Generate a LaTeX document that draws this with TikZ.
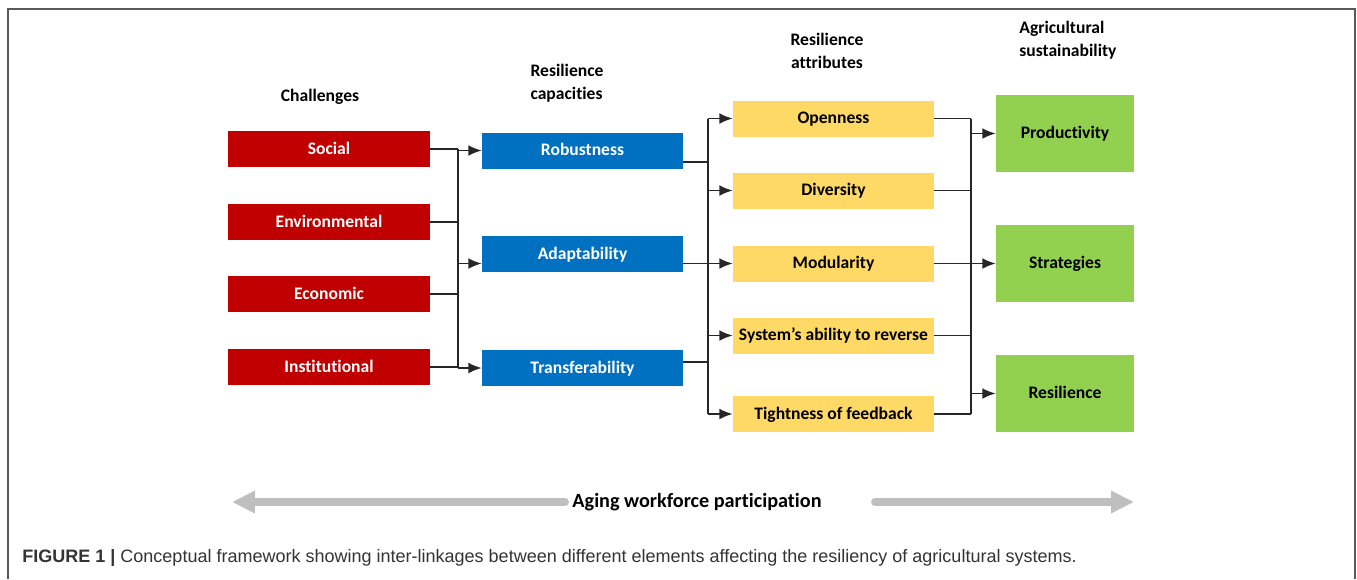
\documentclass[tikz,border=0pt]{standalone}
\usepackage{fontspec}
\setmainfont{Carlito}[Ligatures=NoCommon]
\newfontfamily\capfont{Liberation Sans}
\usetikzlibrary{arrows.meta,positioning}
\definecolor{challred}{HTML}{C00000}
\definecolor{capblue}{HTML}{0070C0}
\definecolor{attryellow}{HTML}{FFD966}
\definecolor{goalgreen}{HTML}{92D050}
\definecolor{agegray}{HTML}{BFBFBF}
\tikzset{
  boxfont/.style={font=\fontsize{10}{13}\selectfont\bfseries},
  box/.style={boxfont,minimum height=0.72cm,inner sep=0pt,text height=1.5ex,text depth=0.3ex},
  challenge/.style={box,fill=challred,text=white,minimum width=4.04cm},
  capacity/.style={box,fill=capblue,text=white,minimum width=4.02cm},
  attribute/.style={box,fill=attryellow,text=black,minimum width=4.02cm},
  goal/.style={box,fill=goalgreen,text=black,minimum width=2.76cm,minimum height=1.54cm},
  heading/.style={boxfont,inner sep=0pt},
  link/.style={line width=0.8pt,black!85},
  wide/.style={line width=4.5pt,agegray,line cap=round},
}

\begin{document}
\begin{tikzpicture}[x=0.02cm,y=-0.02cm,>={Latex[length=7.5pt,width=6pt]}]
\useasboundingbox (0,0) rectangle (1357,579);
\draw[black!65,line width=1.2pt] (8,579) -- (8,9) -- (1355,9) -- (1355,579);
% headings
\node[heading] (hchall) at (320,97) {Challenges};
\node[heading,align=left] (hcap) at (567,83) {Resilience\\capacities};
\node[heading,align=center] (hattr) at (827,51) {Resilience\\attributes};
\node[heading,align=left,anchor=west] (hsust) at (1019,40) {Agricultural\\sustainability};
% boxes
\node[challenge] (social) at (329,149) {Social};
\node[challenge] (environ) at (329,222) {Environmental};
\node[challenge] (econ) at (329,294) {Economic};
\node[challenge] (instit) at (329,367) {Institutional};
\node[capacity] (robust) at (582.5,150.5) {Robustness};
\node[capacity] (adapt) at (582.5,254) {Adaptability};
\node[capacity] (transf) at (582.5,368) {Transferability};
\node[attribute] (open) at (833.5,118.5) {Openness};
\node[attribute] (divers) at (833.5,190.5) {Diversity};
\node[attribute] (modul) at (833.5,263.5) {Modularity};
\node[attribute] (revers) at (833.5,335.5) {System’s ability to reverse};
\node[attribute] (tight) at (833.5,414) {Tightness of feedback};
\node[goal] (product) at (1065,133.5) {Productivity};
\node[goal] (strat) at (1065,263.5) {Strategies};
\node[goal] (resil) at (1065,393.5) {Resilience};
% junctions
\coordinate (ja) at (458,0);
\coordinate (jb) at (708,0);
\coordinate (jc) at (971,0);
\coordinate (robout) at ([yshift=-6.5pt]robust.east);
\coordinate (trout) at ([yshift=3.4pt]transf.east);
% challenges -> capacities
\draw[link] (social.east) -- (social.east -| ja);
\draw[link] (environ.east) -- (environ.east -| ja);
\draw[link] (econ.east) -- (econ.east -| ja);
\draw[link] (instit.east) -- (instit.east -| ja);
\draw[link] (social.east -| ja) -- (instit.east -| ja);
\draw[link,->] (robust.west -| ja) -- (robust.west);
\draw[link,->] (modul -| ja) -- (modul -| adapt.west);
\draw[link,->] (transf.west -| ja) -- (transf.west);
% capacities -> attributes
\draw[link] (robout) -- (robout -| jb);
\draw[link] (trout) -- (trout -| jb);
\draw[link,->] (adapt.east |- modul) -- (modul.west);
\draw[link] (open.west -| jb) -- (tight.west -| jb);
\draw[link,->] (open.west -| jb) -- (open.west);
\draw[link,->] (divers.west -| jb) -- (divers.west);
\draw[link,->] (revers.west -| jb) -- (revers.west);
\draw[link,->] (tight.west -| jb) -- (tight.west);
% attributes -> sustainability
\draw[link] (open.east) -- (open.east -| jc);
\draw[link] (divers.east) -- (divers.east -| jc);
\draw[link] (modul.east) -- (modul.east -| jc);
\draw[link] (revers.east) -- (revers.east -| jc);
\draw[link] (tight.east) -- (tight.east -| jc);
\draw[link] (open.east -| jc) -- (tight.east -| jc);
\draw[link,->] (product.west -| jc) -- (product.west);
\draw[link,->] (strat.west -| jc) -- (strat.west);
\draw[link,->] (resil.west -| jc) -- (resil.west);
% aging workforce
\node[font=\fontsize{11.5}{14}\selectfont\bfseries,inner sep=0pt] (aging) at (697,502) {Aging workforce participation};
\coordinate (agl) at (565,502);
\coordinate (aglend) at (232,502);
\coordinate (agr) at (875,502);
\coordinate (agrend) at (1134,502);
\draw[wide,-{Triangle[length=13pt,width=12pt]}] (agl) -- (aglend);
\draw[wide,-{Triangle[length=13pt,width=12pt]}] (agr) -- (agrend);
% caption
\node[anchor=west,inner sep=0pt,text=black!80,font=\capfont\fontsize{10.25}{12}\selectfont] (caption) at (22,558) {\textbf{FIGURE 1 |} Conceptual framework showing inter-linkages between different elements affecting the resiliency of agricultural systems.};
\end{tikzpicture}
\end{document}
